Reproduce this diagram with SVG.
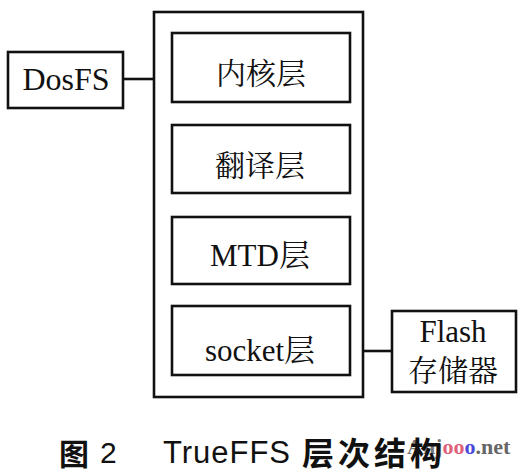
<svg xmlns="http://www.w3.org/2000/svg" width="526" height="474" viewBox="0 0 526 474">
<style>
.box{fill:none;stroke:#111;stroke-width:2.6}
.ln{stroke:#111;stroke-width:2.6;fill:none}
.t{font-family:"Liberation Serif","Noto Serif CJK SC","Noto Sans CJK SC",serif;fill:#111;text-anchor:middle}
.cap{font-family:"Liberation Sans","Noto Sans CJK SC",sans-serif;fill:#111}
.capb{font-family:"Noto Sans CJK SC",sans-serif;fill:#111;font-weight:bold}
.wm{font-family:"Liberation Serif",serif;font-weight:bold;font-size:22px}
</style>
<rect width="526" height="474" fill="#fff"/>
<g id="truefs">
<rect class="box" x="154" y="12" width="209" height="385"/>
</g>
<g id="kernel">
<rect class="box" x="172" y="33" width="178" height="69"/>
<text class="t" x="261" y="84" font-size="30" font-family="Noto Sans CJK SC,sans-serif">内核层</text>
</g>
<g id="translate">
<rect class="box" x="172" y="125" width="178" height="68"/>
<text class="t" x="260" y="176" font-size="30" font-family="Noto Sans CJK SC,sans-serif">翻译层</text>
</g>
<g id="mtd">
<rect class="box" x="172" y="217" width="178" height="67"/>
<text class="t" x="260" y="266" font-size="31">MTD层</text>
</g>
<g id="socket">
<rect class="box" x="172" y="306" width="178" height="69"/>
<text class="t" x="260" y="361" font-size="31">socket层</text>
</g>
<g id="dosfs">
<rect class="box" x="8" y="52" width="115" height="56"/>
<text class="t" x="66" y="90" font-size="32">DosFS</text>
</g>
<g id="flash">
<rect class="box" x="392" y="311" width="124" height="81"/>
<text class="t" x="453" y="342" font-size="31">Flash</text>
<text class="t" x="453" y="381" font-size="30" font-family="Noto Sans CJK SC,sans-serif">存储器</text>
</g>
<g id="connectors">
<line class="ln" x1="123" y1="79" x2="154" y2="79"/>
<line class="ln" x1="363" y1="351" x2="392" y2="351"/>
</g>
<g id="watermark">
<text class="wm" x="407" y="454"><tspan fill="#777">Anj</tspan><tspan fill="#e0607a">oo</tspan><tspan fill="#4a4ad8">o</tspan><tspan fill="#666">.net</tspan></text>
</g>
<g id="caption">
<text class="capb" x="59" y="465" font-size="30">图</text>
<text class="cap" x="100" y="463" font-size="30">2</text>
<text class="cap" x="163" y="463" font-size="31" textLength="127" lengthAdjust="spacing">TrueFFS</text>
<text class="capb" x="302" y="465" font-size="32" textLength="140" lengthAdjust="spacing">层次结构</text>
</g>
</svg>
